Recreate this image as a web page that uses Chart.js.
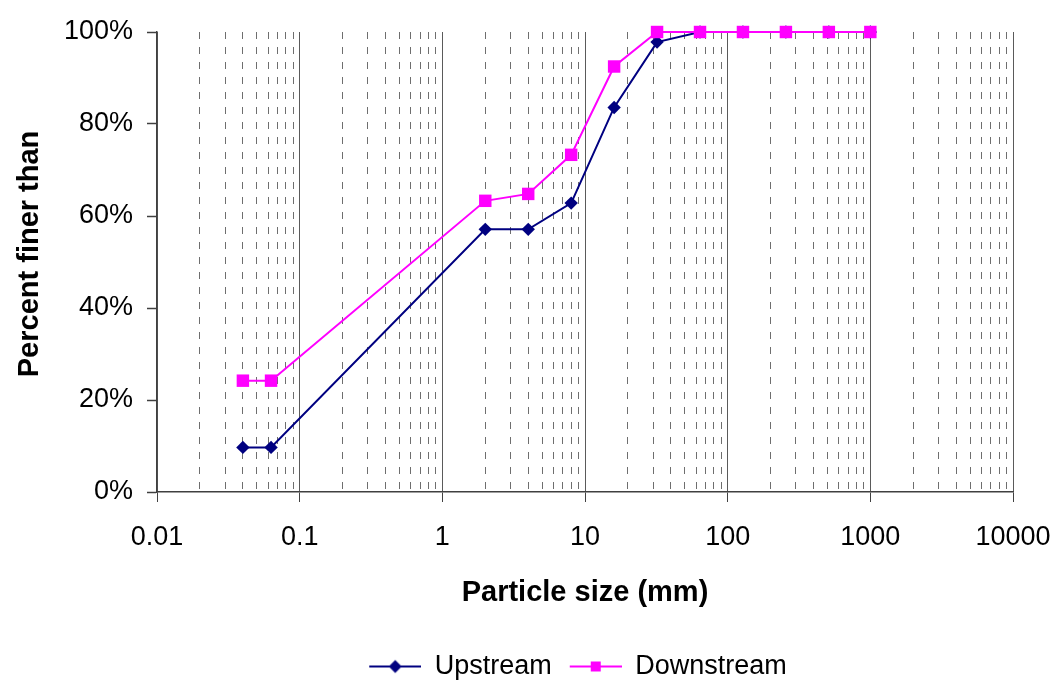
<!DOCTYPE html>
<html>
<head>
<meta charset="utf-8">
<script src="https://cdn.jsdelivr.net/npm/chart.js@4.4.0/dist/chart.umd.min.js"></script>
<style>
  html, body { margin: 0; padding: 0; background: #ffffff; }
  #wrap { width: 1060px; height: 685px; }
</style>
</head>
<body>
<div id="wrap"><canvas id="c" width="1060" height="685"></canvas></div>
<script>
// ---- data ----
const particleSizes = [0.04, 0.063, 2, 4, 8, 16, 32, 64, 128, 256, 512, 1000];
const upstreamValues = [9.7, 9.7, 57.1, 57.1, 62.8, 83.6, 97.8, 100, 100, 100, 100, 100];
const downstreamValues = [24.2, 24.2, 63.3, 64.8, 73.3, 92.5, 100, 100, 100, 100, 100, 100];
const seriesNames = ['Upstream', 'Downstream'];
const xDecades = [0.01, 0.1, 1, 10, 100, 1000, 10000];
const xTickLabels = ['0.01', '0.1', '1', '10', '100', '1000', '10000'];
const xMinorMultipliers = [2, 3, 4, 5, 6, 7, 8, 9];
const yTickValues = [0, 20, 40, 60, 80, 100];
const yTickLabels = ['0%', '20%', '40%', '60%', '80%', '100%'];

const FONT = '"Liberation Sans", Arial, sans-serif';
const upColor = '#000080';
const downColor = '#FF00FF';

// build tick list (major decades + minor 2..9)
const xTicks = [];
xDecades.forEach((d, i) => {
  xTicks.push({ value: d, major: true, label: xTickLabels[i] });
  if (i < xDecades.length - 1) {
    xMinorMultipliers.forEach(m => xTicks.push({ value: d * m, major: false, label: '' }));
  }
});

function legendIcon(color, shape) {
  const c = document.createElement('canvas');
  c.width = 60; c.height = 16;
  const g = c.getContext('2d');
  g.strokeStyle = color; g.lineWidth = 2;
  g.beginPath(); g.moveTo(8, 8); g.lineTo(60, 8); g.stroke();
  g.fillStyle = color;
  g.beginPath();
  if (shape === 'diamond') {
    g.moveTo(34, 1.5); g.lineTo(40.5, 8); g.lineTo(34, 14.5); g.lineTo(27.5, 8); g.closePath();
  } else {
    g.rect(29, 3, 10, 10);
  }
  g.fill();
  return c;
}
const legendIcons = [legendIcon(upColor, 'diamond'), legendIcon(downColor, 'square')];

const legendPlacer = {
  id: 'legendPlacer',
  afterLayout(chart) {
    const lg = chart.legend;
    if (!lg) return;
    lg.left = chart.chartArea.left - 22;
    lg.right = chart.chartArea.right;
    lg.width = lg.right - lg.left;
  }
};

const ctx = document.getElementById('c').getContext('2d');
new Chart(ctx, {
  type: 'line',
  plugins: [legendPlacer],
  data: {
    datasets: [
      {
        label: seriesNames[0],
        data: particleSizes.map((x, i) => ({ x: x, y: upstreamValues[i] })),
        borderColor: upColor,
        backgroundColor: upColor,
        borderWidth: 2,
        pointStyle: 'rectRot',
        pointRadius: 6.7,
        pointHoverRadius: 6.7,
        pointBorderWidth: 0,
        tension: 0,
        clip: false,
        order: 1
      },
      {
        label: seriesNames[1],
        data: particleSizes.map((x, i) => ({ x: x, y: downstreamValues[i] })),
        borderColor: downColor,
        backgroundColor: downColor,
        borderWidth: 2,
        pointStyle: 'rect',
        pointRadius: 8.8,
        pointHoverRadius: 8.8,
        pointBorderWidth: 0,
        tension: 0,
        clip: false,
        order: 0
      }
    ]
  },
  options: {
    responsive: false,
    animation: false,
    events: [],
    layout: { padding: { left: 0, right: 47, top: 32, bottom: -5 } },
    plugins: {
      tooltip: { enabled: false },
      legend: {
        position: 'bottom',
        labels: {
          font: { family: FONT, size: 27 },
          color: '#000000',
          usePointStyle: true,
          pointStyleWidth: 60,
          padding: 10,
          sort: (a, b) => a.datasetIndex - b.datasetIndex,
          generateLabels: (chart) => {
            const items = Chart.defaults.plugins.legend.labels.generateLabels(chart);
            items.forEach(it => { it.pointStyle = legendIcons[it.datasetIndex]; it.rotation = 0; });
            return items;
          }
        }
      }
    },
    scales: {
      x: {
        type: 'logarithmic',
        min: 0.01,
        max: 10000,
        afterBuildTicks: (scale) => { scale.ticks = xTicks.map(t => ({ value: t.value, major: t.major })); },
        afterFit: (scale) => { scale.height = 151; scale.paddingRight = 0; scale.paddingLeft = 0; },
        ticks: {
          autoSkip: false,
          maxRotation: 0,
          minRotation: 0,
          padding: 19,
          color: '#000000',
          font: { family: FONT, size: 27 },
          callback: (val, i) => xTicks[i] ? xTicks[i].label : ''
        },
        grid: {
          drawOnChartArea: true,
          drawTicks: true,
          tickLength: 10,
          color: (c) => (c.tick && c.tick.major) ? '#5a5a5a' : '#6e6e6e',
          lineWidth: 1,
          tickColor: (c) => (c.tick && c.tick.major) ? '#404040' : 'rgba(0,0,0,0)',
          tickWidth: 1
        },
        border: {
          display: true,
          color: '#404040',
          width: 1.5,
          dash: (c) => (c.tick && !c.tick.major) ? [7, 8] : []
        },
        title: {
          display: true,
          text: 'Particle size (mm)',
          color: '#000000',
          font: { family: FONT, size: 29, weight: 'bold' },
          padding: { top: 0, bottom: 32.5 }
        }
      },
      y: {
        type: 'linear',
        min: 0,
        max: 100,
        afterBuildTicks: (scale) => { scale.ticks = yTickValues.map(v => ({ value: v })); },
        afterFit: (scale) => { scale.width = 157; },
        ticks: {
          padding: 14,
          color: '#000000',
          font: { family: FONT, size: 27 },
          callback: (val, i) => yTickLabels[i]
        },
        grid: {
          drawOnChartArea: false,
          drawTicks: true,
          tickLength: 10,
          tickColor: '#404040',
          tickWidth: 1.5
        },
        border: { display: true, color: '#404040', width: 1.5 },
        title: {
          display: true,
          text: '  Percent finer than',
          color: '#000000',
          font: { family: FONT, size: 29, weight: 'bold' },
          padding: { top: 13, bottom: 0 }
        }
      }
    }
  }
});
</script>
</body>
</html>
